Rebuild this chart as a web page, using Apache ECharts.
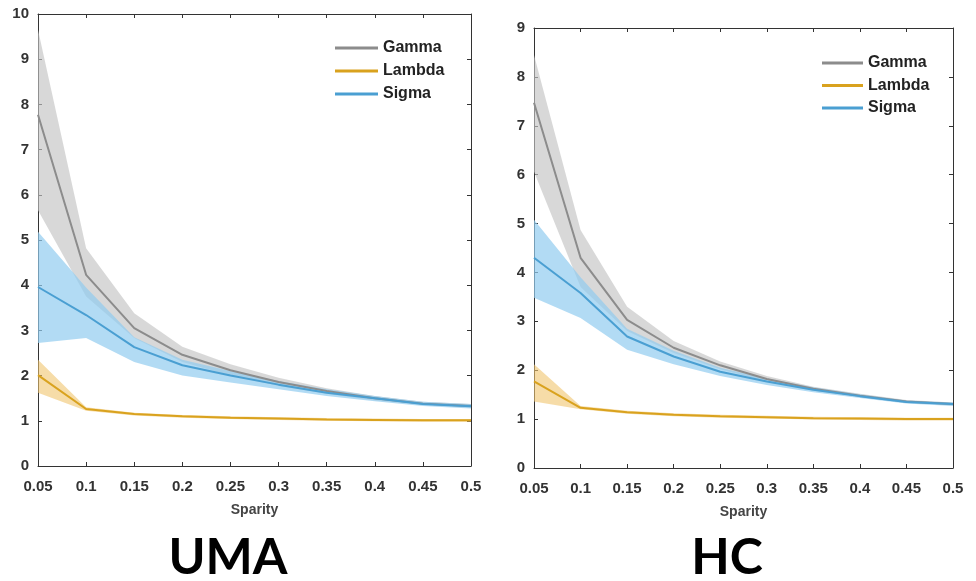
<!DOCTYPE html>
<html>
<head>
<meta charset="utf-8">
<script src="https://cdn.jsdelivr.net/npm/echarts@6/dist/echarts.min.js"></script>
<style>html,body{margin:0;padding:0;background:#fff}#c{width:976px;height:581px}</style>
</head>
<body>
<div id="c"></div>
<script>
var sparsity = ['0.05','0.1','0.15','0.2','0.25','0.3','0.35','0.4','0.45','0.5'];
var seriesNames = ['Gamma','Lambda','Sigma'];
var panelTitles = ['UMA','HC'];
var yTicksUMA = {min:0, max:10, interval:1};
var yTicksHC = {min:0, max:9, interval:1};

// UMA
var umaGamma      = [7.77, 4.23, 3.05, 2.46, 2.12, 1.86, 1.66, 1.50, 1.38, 1.33];
var umaGammaUpper = [9.65, 4.82, 3.38, 2.64, 2.25, 1.95, 1.72, 1.55, 1.42, 1.37];
var umaGammaLower = [5.66, 3.75, 2.83, 2.30, 2.00, 1.77, 1.60, 1.45, 1.35, 1.29];
var umaLambda      = [2.01, 1.26, 1.15, 1.10, 1.07, 1.05, 1.03, 1.02, 1.01, 1.01];
var umaLambdaUpper = [2.35, 1.30, 1.18, 1.13, 1.10, 1.08, 1.06, 1.05, 1.04, 1.04];
var umaLambdaLower = [1.62, 1.22, 1.12, 1.07, 1.04, 1.02, 1.00, 0.99, 0.98, 0.98];
var umaSigma      = [3.96, 3.34, 2.63, 2.23, 2.00, 1.80, 1.62, 1.50, 1.37, 1.32];
var umaSigmaUpper = [5.18, 3.95, 2.85, 2.35, 2.10, 1.88, 1.70, 1.55, 1.42, 1.37];
var umaSigmaLower = [2.72, 2.83, 2.30, 2.00, 1.85, 1.70, 1.55, 1.43, 1.33, 1.27];

// HC
var hcGamma      = [7.47, 4.30, 3.03, 2.46, 2.10, 1.82, 1.62, 1.48, 1.36, 1.31];
var hcGammaUpper = [8.45, 4.87, 3.30, 2.60, 2.18, 1.88, 1.66, 1.52, 1.39, 1.34];
var hcGammaLower = [6.06, 3.70, 2.80, 2.35, 2.02, 1.77, 1.58, 1.45, 1.33, 1.28];
var hcLambda      = [1.77, 1.23, 1.14, 1.09, 1.06, 1.04, 1.02, 1.01, 1.00, 1.00];
var hcLambdaUpper = [2.12, 1.27, 1.17, 1.12, 1.09, 1.07, 1.05, 1.04, 1.03, 1.03];
var hcLambdaLower = [1.36, 1.20, 1.11, 1.06, 1.03, 1.01, 0.99, 0.98, 0.97, 0.97];
var hcSigma      = [4.30, 3.58, 2.69, 2.28, 1.97, 1.77, 1.60, 1.47, 1.35, 1.31];
var hcSigmaUpper = [5.08, 3.90, 2.85, 2.40, 2.05, 1.83, 1.65, 1.51, 1.38, 1.34];
var hcSigmaLower = [3.48, 3.07, 2.42, 2.12, 1.88, 1.70, 1.55, 1.43, 1.32, 1.27];

var lineColors = {Gamma:'#8c8c8c', Lambda:'#d9a21e', Sigma:'#4a9fd2'};
var bandColors = {Gamma:'rgba(195,195,195,0.65)', Lambda:'rgba(240,196,110,0.6)', Sigma:'rgba(145,204,240,0.7)'};

var panels = [
  {g:umaGamma,gu:umaGammaUpper,gl:umaGammaLower,l:umaLambda,lu:umaLambdaUpper,ll:umaLambdaLower,s:umaSigma,su:umaSigmaUpper,sl:umaSigmaLower, y:yTicksUMA},
  {g:hcGamma,gu:hcGammaUpper,gl:hcGammaLower,l:hcLambda,lu:hcLambdaUpper,ll:hcLambdaLower,s:hcSigma,su:hcSigmaUpper,sl:hcSigmaLower, y:yTicksHC}
];

var grids = [
  {left:38, right:505, top:14, bottom:115},
  {left:534, right:23, top:28, bottom:113}
];
var axisColor = '#333';
var labelFont = {fontFamily:'Liberation Sans', fontWeight:'bold', fontSize:15, color:'#333'};

var xAxes = [], yAxes = [], series = [];
panels.forEach(function(p, i){
  xAxes.push({
    gridIndex:i, type:'category', data:sparsity, boundaryGap:false, position:'bottom',
    name:'Sparity', nameLocation:'middle', nameGap:37,
    nameTextStyle:{fontFamily:'Liberation Sans', fontWeight:'bold', fontSize:14, color:'#444'},
    axisLine:{onZero:false, lineStyle:{color:axisColor, width:1}},
    axisTick:{inside:true, length:4, lineStyle:{color:axisColor}},
    axisLabel:Object.assign({margin:13, showMinLabel:true, showMaxLabel:true, interval:0}, labelFont),
    splitLine:{show:false}
  });
  xAxes.push({
    gridIndex:i, type:'category', data:sparsity, boundaryGap:false, position:'top',
    axisLine:{onZero:false, lineStyle:{color:axisColor, width:1}},
    axisTick:{inside:true, length:4, lineStyle:{color:axisColor}},
    axisLabel:{show:false}, splitLine:{show:false}
  });
  yAxes.push({
    gridIndex:i, type:'value', min:p.y.min, max:p.y.max, interval:p.y.interval, position:'left',
    axisLine:{show:true, onZero:false, lineStyle:{color:axisColor, width:1}},
    axisTick:{show:true, inside:true, length:4, lineStyle:{color:axisColor}},
    axisLabel:Object.assign({margin:9}, labelFont),
    splitLine:{show:false}
  });
  yAxes.push({
    gridIndex:i, type:'value', min:p.y.min, max:p.y.max, interval:p.y.interval, position:'right',
    axisLine:{show:true, onZero:false, lineStyle:{color:axisColor, width:1}},
    axisTick:{show:true, inside:true, length:4, lineStyle:{color:axisColor}},
    axisLabel:{show:false}, splitLine:{show:false}
  });
  var xi = i*2, yi = i*2;
  function band(name, lower, upper){
    var diff = upper.map(function(u,k){ return +(u - lower[k]).toFixed(4); });
    series.push({
      name:name+' band lo', type:'line', xAxisIndex:xi, yAxisIndex:yi, stack:name+'band'+i,
      data:lower, symbol:'none', lineStyle:{opacity:0}, silent:true, z:1
    });
    series.push({
      name:name+' band', type:'line', xAxisIndex:xi, yAxisIndex:yi, stack:name+'band'+i,
      data:diff, symbol:'none', lineStyle:{opacity:0}, areaStyle:{color:bandColors[name], opacity:1}, silent:true, z:1
    });
  }
  band('Gamma', p.gl, p.gu);
  band('Sigma', p.sl, p.su);
  band('Lambda', p.ll, p.lu);
  [['Gamma',p.g],['Lambda',p.l],['Sigma',p.s]].forEach(function(d){
    series.push({
      name:d[0], type:'line', xAxisIndex:xi, yAxisIndex:yi, data:d[1], symbol:'none',
      lineStyle:{color:lineColors[d[0]], width:2}, itemStyle:{color:lineColors[d[0]]}, z:3
    });
  });
});

var legendText = {fontFamily:'Liberation Sans', fontWeight:'bold', fontSize:16, color:'#222', lineHeight:16};
var option = {
  animation:false,
  backgroundColor:'#fff',
  grid:grids,
  xAxis:xAxes,
  yAxis:yAxes,
  legend:[
    {data:seriesNames, orient:'vertical', left:335, top:40, padding:0, itemWidth:43, itemHeight:3, itemGap:7, icon:'rect', textStyle:legendText, selectedMode:false},
    {data:seriesNames, orient:'vertical', left:822, top:55, padding:0, itemWidth:41, itemHeight:3, itemGap:6.5, icon:'rect', textStyle:legendText, selectedMode:false}
  ],
  graphic:[
    {type:'text', x:228, y:558, style:{text:panelTitles[0], fontFamily:'Lato', fontWeight:'bold', fontSize:50, fill:'#000', textAlign:'center', textVerticalAlign:'middle'}},
    {type:'text', x:727, y:558, style:{text:panelTitles[1], fontFamily:'Lato', fontWeight:'bold', fontSize:50, fill:'#000', textAlign:'center', textVerticalAlign:'middle'}}
  ],
  series:series
};
var chart = echarts.init(document.getElementById('c'));
chart.setOption(option);
</script>
</body>
</html>
